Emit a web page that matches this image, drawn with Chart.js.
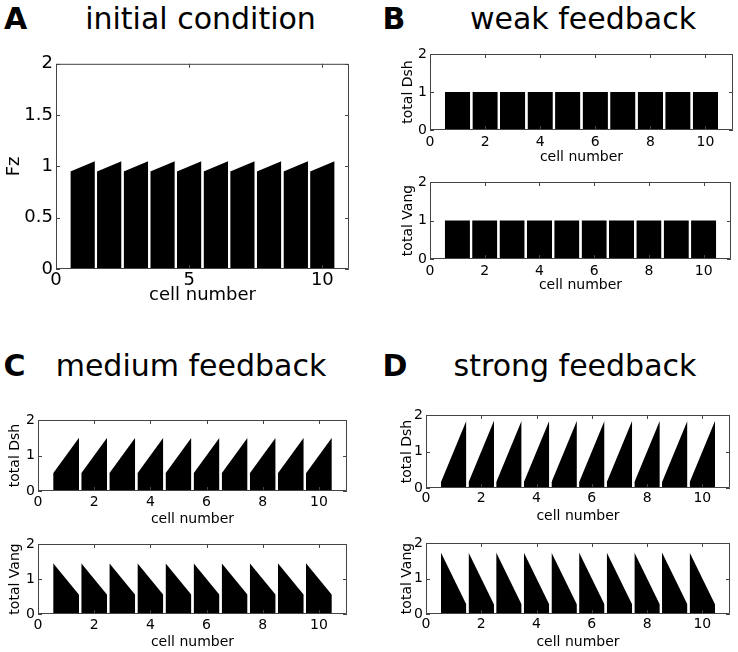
<!DOCTYPE html>
<html>
<head>
<meta charset="utf-8">
<script src="https://cdn.jsdelivr.net/npm/chart.js@4.4.1/dist/chart.umd.min.js"></script>
<style>
  body { margin: 0; background: #fff; }
  #fig { position: relative; width: 738px; height: 652px; overflow: hidden; font-family: "DejaVu Sans", sans-serif; }
  #fig canvas { position: absolute; }
  .letter { position: absolute; font-weight: bold; font-size: 30px; line-height: 30px; }
  .title { position: absolute; font-size: 30px; line-height: 30px; white-space: nowrap; transform: translateX(-50%); }
</style>
</head>
<body>
<div id="fig"></div>
<script>
// cell index on x
const cells = [1, 2, 3, 4, 5, 6, 7, 8, 9, 10];

// tick labels
const xTicksA = [0, 5, 10];
const yTicksA = [0, 0.5, 1, 1.5, 2];
const xTicksSmall = [0, 2, 4, 6, 8, 10];
const yTicksSmall = [0, 1, 2];

// value at the left / right edge of each cell
const fzLeft  = [0.95, 0.95, 0.95, 0.95, 0.95, 0.95, 0.95, 0.95, 0.95, 0.95];
const fzRight = [1.05, 1.05, 1.05, 1.05, 1.05, 1.05, 1.05, 1.05, 1.05, 1.05];

const weakDshLeft   = [1, 1, 1, 1, 1, 1, 1, 1, 1, 1];
const weakDshRight  = [1, 1, 1, 1, 1, 1, 1, 1, 1, 1];
const weakVangLeft  = [1, 1, 1, 1, 1, 1, 1, 1, 1, 1];
const weakVangRight = [1, 1, 1, 1, 1, 1, 1, 1, 1, 1];

const mediumDshLeft   = [0.5, 0.5, 0.5, 0.5, 0.5, 0.5, 0.5, 0.5, 0.5, 0.5];
const mediumDshRight  = [1.5, 1.5, 1.5, 1.5, 1.5, 1.5, 1.5, 1.5, 1.5, 1.5];
const mediumVangLeft  = [1.45, 1.45, 1.45, 1.45, 1.45, 1.45, 1.45, 1.45, 1.45, 1.45];
const mediumVangRight = [0.55, 0.55, 0.55, 0.55, 0.55, 0.55, 0.55, 0.55, 0.55, 0.55];

const strongDshLeft   = [0.16, 0.16, 0.16, 0.16, 0.16, 0.16, 0.16, 0.16, 0.16, 0.16];
const strongDshRight  = [1.84, 1.84, 1.84, 1.84, 1.84, 1.84, 1.84, 1.84, 1.84, 1.84];
const strongVangLeft  = [1.73, 1.73, 1.73, 1.73, 1.73, 1.73, 1.73, 1.73, 1.73, 1.73];
const strongVangRight = [0.27, 0.27, 0.27, 0.27, 0.27, 0.27, 0.27, 0.27, 0.27, 0.27];

const headings = [
  { letter: 'A', lx: 4,     text: 'initial condition', cx: 200.5, base: 29 },
  { letter: 'B', lx: 382.5, text: 'weak feedback',     cx: 583,   base: 29 },
  { letter: 'C', lx: 3.5,   text: 'medium feedback',   cx: 191,   base: 376 },
  { letter: 'D', lx: 382.5, text: 'strong feedback',   cx: 575,   base: 376 }
];

// box = axes rectangle [left, top, right, bottom] in page pixels
const subplots = [
  { box: [56, 62, 349, 269],   font: 18, xPad: 1, yTitle: 'Fz',         yTitleX: 14.5,  xTitleY: 295.5, xTicks: xTicksA,     yTicks: yTicksA,     left: fzLeft,         right: fzRight },
  { box: [430, 54, 733, 130],  font: 14, xPad: 4, yTitle: 'total Dsh',  yTitleX: 408.5, xTitleY: 158,   xTicks: xTicksSmall, yTicks: yTicksSmall, left: weakDshLeft,    right: weakDshRight },
  { box: [430, 182, 731, 259], font: 14, xPad: 4, yTitle: 'total Vang', yTitleX: 408.5, xTitleY: 285.5, xTicks: xTicksSmall, yTicks: yTicksSmall, left: weakVangLeft,   right: weakVangRight },
  { box: [38, 420, 347, 491],  font: 14, xPad: 3, yTitle: 'total Dsh',  yTitleX: 15.7,  xTitleY: 520,   xTicks: xTicksSmall, yTicks: yTicksSmall, left: mediumDshLeft,  right: mediumDshRight },
  { box: [38, 544, 347, 614],  font: 14, xPad: 3, yTitle: 'total Vang', yTitleX: 15.7,  xTitleY: 643,   xTicks: xTicksSmall, yTicks: yTicksSmall, left: mediumVangLeft, right: mediumVangRight },
  { box: [426, 415, 730, 488], font: 14, xPad: 2, yTitle: 'total Dsh',  yTitleX: 407,   xTitleY: 517,   xTicks: xTicksSmall, yTicks: yTicksSmall, left: strongDshLeft,  right: strongDshRight },
  { box: [426, 543, 730, 614], font: 14, xPad: 2, yTitle: 'total Vang', yTitleX: 407,   xTitleY: 643,   xTicks: xTicksSmall, yTicks: yTicksSmall, left: strongVangLeft, right: strongVangRight }
];

const halfWidth = 0.46;
const fig = document.getElementById('fig');

// matlab style frame with inward ticks on all four sides
const matlabAxes = {
  id: 'matlabAxes',
  afterDraw(chart) {
    const ctx = chart.ctx;
    const a = chart.chartArea;
    const x = chart.scales.x, y = chart.scales.y;
    const len = 4;
    ctx.save();
    ctx.strokeStyle = '#444';
    ctx.lineWidth = 1;
    ctx.beginPath();
    x.ticks.forEach(t => {
      const px = Math.round(x.getPixelForValue(t.value)) + 0.5;
      ctx.moveTo(px, a.bottom); ctx.lineTo(px, a.bottom - len);
      ctx.moveTo(px, a.top); ctx.lineTo(px, a.top + len);
    });
    y.ticks.forEach(t => {
      const py = Math.round(y.getPixelForValue(t.value)) + 0.5;
      ctx.moveTo(a.left, py); ctx.lineTo(a.left + len, py);
      ctx.moveTo(a.right, py); ctx.lineTo(a.right - len, py);
    });
    ctx.rect(a.left + 0.5, a.top + 0.5, a.width - 1, a.height - 1);
    ctx.stroke();
    ctx.restore();
  }
};

headings.forEach(h => {
  const top = h.base - 0.846 * 30;
  const l = document.createElement('div');
  l.className = 'letter';
  l.textContent = h.letter;
  l.style.left = h.lx + 'px';
  l.style.top = top + 'px';
  fig.appendChild(l);
  const t = document.createElement('div');
  t.className = 'title';
  t.textContent = h.text;
  t.style.left = h.cx + 'px';
  t.style.top = top + 'px';
  fig.appendChild(t);
});

function buildPanel(p) {
  const [bl, bt, br, bb] = p.box;
  const lh = p.font * 1.2;
  const cLeft = Math.round(p.yTitleX - lh / 2);
  const cTop = bt - 12;
  const cRight = br + 8;
  const cBottom = Math.round(p.xTitleY + lh / 2);

  const canvas = document.createElement('canvas');
  canvas.width = cRight - cLeft;
  canvas.height = cBottom - cTop;
  canvas.style.left = cLeft + 'px';
  canvas.style.top = cTop + 'px';
  fig.appendChild(canvas);

  const datasets = cells.map((c, i) => ({
    data: [{ x: c - halfWidth, y: p.left[i] }, { x: c + halfWidth, y: p.right[i] }],
    fill: 'origin',
    backgroundColor: '#000',
    borderColor: 'rgba(0,0,0,0)',
    borderWidth: 0,
    pointRadius: 0,
    tension: 0
  }));

  const font = { family: 'DejaVu Sans', size: p.font };
  const plain = v => String(v);

  new Chart(canvas.getContext('2d'), {
    type: 'line',
    data: { datasets: datasets },
    options: {
      responsive: false,
      animation: false,
      events: [],
      layout: { padding: { top: bt - cTop, right: cRight - br, left: 0, bottom: 0 } },
      plugins: { legend: { display: false }, tooltip: { enabled: false } },
      scales: {
        x: {
          type: 'linear', min: 0, max: 11,
          grid: { display: false, drawTicks: false },
          border: { display: false },
          ticks: { color: '#000', font: font, padding: p.xPad, maxRotation: 0, callback: plain },
          title: { display: true, text: 'cell number', color: '#000', font: font, padding: 0 },
          afterBuildTicks: s => { s.ticks = p.xTicks.map(v => ({ value: v })); },
          afterFit: s => { s.height = cBottom - bb; }
        },
        y: {
          type: 'linear', min: 0, max: 2,
          grid: { display: false, drawTicks: false },
          border: { display: false },
          ticks: { color: '#000', font: font, padding: 3, callback: plain },
          title: { display: true, text: p.yTitle, color: '#000', font: font, padding: 0 },
          afterBuildTicks: s => { s.ticks = p.yTicks.map(v => ({ value: v })); },
          afterFit: s => { s.width = bl - cLeft; }
        }
      }
    },
    plugins: [matlabAxes]
  });
}

subplots.forEach(buildPanel);
</script>
</body>
</html>
